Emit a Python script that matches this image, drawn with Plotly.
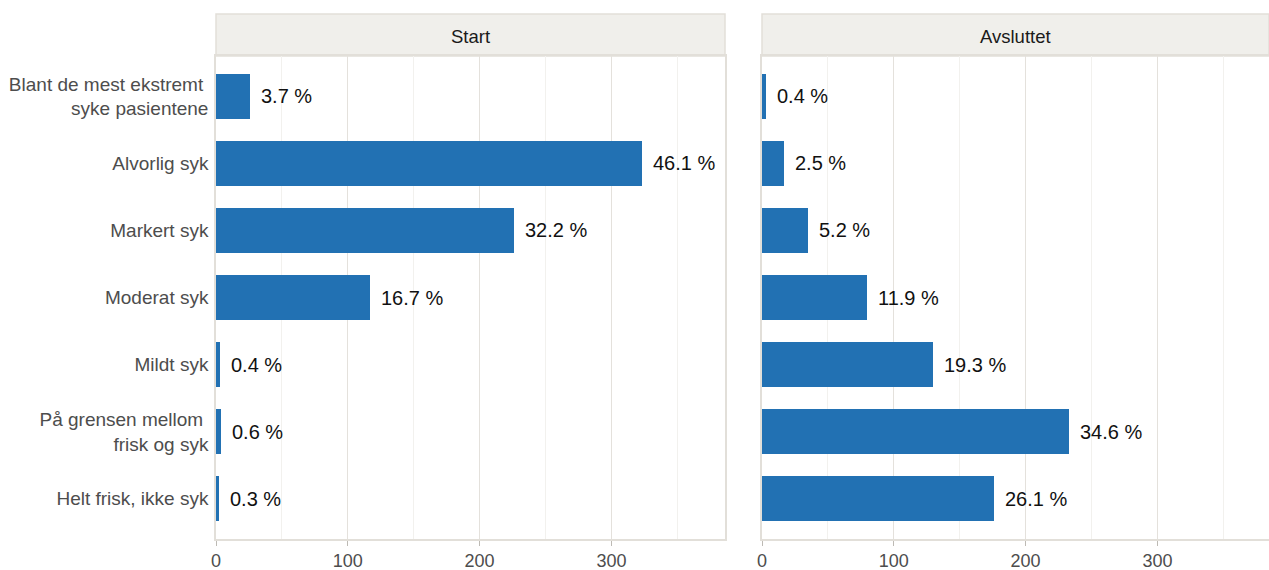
import plotly.graph_objects as go

# Severity categories, top to bottom
categories = [
    "Blant de mest ekstremt\u00a0<br>syke pasientene",
    "Alvorlig syk",
    "Markert syk",
    "Moderat syk",
    "Mildt syk",
    "På grensen mellom\u00a0<br>frisk og syk",
    "Helt frisk, ikke syk",
]
panels = ["Start", "Avsluttet"]

# Patient counts per category
start_counts = [26, 323, 226, 117, 3, 4, 2]
end_counts = [3, 17, 35, 80, 130, 233, 176]

BAR = "#2271b3"
GRID_MAJOR = "#e4e1dc"
GRID_MINOR = "#f2f1ee"
BORDER = "#e2dfd9"
STRIP = "#f0efeb"
FONT = "Liberation Sans, Arial, sans-serif"

W, H = 1269, 570
px = lambda v: v / W
py = lambda v: 1 - v / H

panel_x = [(216, 725), (762, 1269)]
top, bottom, strip_top = 56, 539, 14
scale = 1.318  # pixels per count
ypos = list(range(len(categories)))

fig = go.Figure()
annotations = []
shapes = []

for i, (name, counts) in enumerate(zip(panels, [start_counts, end_counts])):
    xa = "x" if i == 0 else "x2"
    ya = "y" if i == 0 else "y2"
    total = sum(counts)
    pct = [c / total * 100 for c in counts]
    fig.add_trace(go.Bar(
        x=counts, y=ypos, orientation="h", width=0.67,
        marker=dict(color=BAR, line=dict(width=0)),
        xaxis=xa, yaxis=ya, showlegend=False, hoverinfo="skip",
    ))
    for yv, c, p in zip(ypos, counts, pct):
        annotations.append(dict(
            x=c, y=yv, xref=xa, yref=ya, text=f"{p:.1f} %",
            showarrow=False, xanchor="left", yanchor="middle", xshift=9,
            font=dict(family=FONT, size=20, color="#111111"),
        ))
    x0, x1 = panel_x[i]
    # facet strip
    shapes.append(dict(
        type="rect", xref="paper", yref="paper",
        x0=px(x0), x1=px(x1), y0=py(top), y1=py(strip_top),
        fillcolor=STRIP, line=dict(color=BORDER, width=1.5), layer="below",
    ))
    annotations.append(dict(
        x=px((x0 + x1) / 2), y=py((top + strip_top) / 2), xref="paper", yref="paper",
        text=name, showarrow=False, xanchor="center", yanchor="middle", yshift=-1.5,
        font=dict(family=FONT, size=18.5, color="#1a1a1a"),
    ))

xrange_ = lambda x0, x1: [0, (x1 - x0) / scale]
common_x = dict(
    showgrid=True, gridcolor=GRID_MAJOR, gridwidth=1.2, dtick=100, tick0=0,
    minor=dict(dtick=50, showgrid=True, gridcolor=GRID_MINOR, gridwidth=1, ticks=""),
    ticks="outside", ticklen=5, tickcolor="#bdbab4", tickwidth=1,
    tickfont=dict(family=FONT, size=18, color="#4d4d4d"),
    showline=True, linecolor=BORDER, linewidth=1.5, mirror=True,
    zeroline=False, fixedrange=True, automargin=False,
)
common_y = dict(
    range=[6.6, -0.6], showgrid=False, zeroline=False,
    showline=True, linecolor=BORDER, linewidth=1.5, mirror=True,
    fixedrange=True, automargin=False,
)

fig.update_layout(
    width=W, height=H,
    margin=dict(l=0, r=0, t=0, b=0, pad=0),
    paper_bgcolor="white", plot_bgcolor="white",
    bargap=0, showlegend=False,
    xaxis=dict(domain=[px(216), px(725)], range=xrange_(216, 725), anchor="y", **common_x),
    xaxis2=dict(domain=[px(762), 1.0], range=xrange_(762, 1269), anchor="y2", **common_x),
    yaxis=dict(domain=[py(bottom), py(top)], anchor="x", tickmode="array",
               tickvals=ypos, ticktext=categories, ticks="",
               ticklabelstandoff=2,
               tickfont=dict(family=FONT, size=19, color="#4d4d4d"), **common_y),
    yaxis2=dict(domain=[py(bottom), py(top)], anchor="x2", showticklabels=False, **common_y),
    annotations=annotations,
    shapes=shapes,
)

fig.write_html("out.html")
